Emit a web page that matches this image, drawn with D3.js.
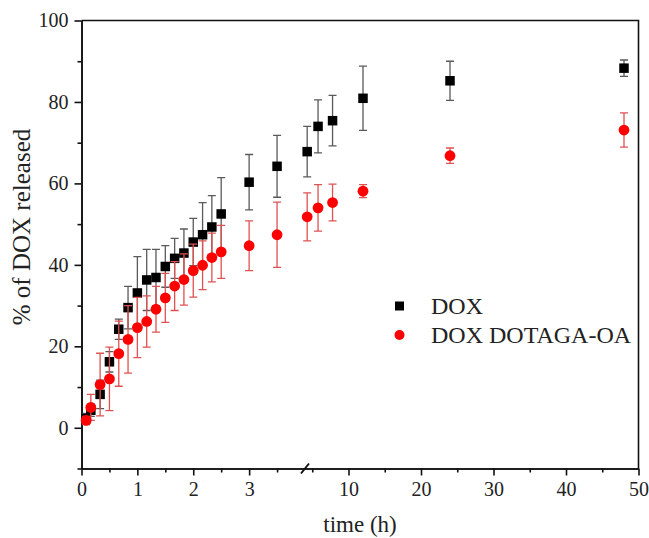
<!DOCTYPE html>
<html>
<head>
<meta charset="utf-8">
<script src="https://cdnjs.cloudflare.com/ajax/libs/d3/7.8.5/d3.min.js"></script>
<style>
  body { margin: 0; background: #fff; }
  svg { display: block; }
  text { font-family: "Liberation Serif", "Times New Roman", serif; fill: #222; }
</style>
</head>
<body>
<svg></svg>
<script>
// sampling times (h)
const times = [0.083, 0.167, 0.333, 0.5, 0.667, 0.833, 1, 1.167, 1.333, 1.5, 1.667, 1.833,
  2, 2.167, 2.333, 2.5, 3, 3.5, 4.3, 5.8, 7.8, 12, 24, 48];

// % released
const doxValues = [2.3, 4.3, 8.2, 16.2, 24.2, 29.5, 33.1, 36.3, 36.9, 39.6, 41.6, 42.9,
  45.6, 47.4, 49.3, 52.5, 60.3, 64.2, 67.8, 74.0, 75.4, 80.9, 85.2, 88.3];
const doxErrors = [1.2, 1.5, 3.5, 2.5, 2.5, 5.2, 8.9, 7.5, 6.9, 5.1, 4.9, 5.9,
  5.8, 7.9, 7.7, 8.9, 6.8, 7.6, 6.2, 6.5, 6.2, 7.9, 4.8, 2.0];

const oaValues = [1.8, 5.0, 10.6, 12.0, 18.2, 21.7, 24.6, 26.1, 29.1, 31.9, 34.8, 36.4,
  38.6, 39.9, 41.8, 43.2, 44.7, 47.4, 51.8, 54.0, 55.3, 58.1, 66.8, 73.1];
const oaErrors = [1.0, 3.2, 7.7, 7.8, 8.0, 8.3, 7.4, 6.3, 5.6, 6.0, 6.0, 6.3,
  6.5, 6.0, 6.0, 6.5, 6.1, 8.0, 5.9, 5.7, 4.5, 1.6, 1.9, 4.2];

const seriesNames = ["DOX", "DOX DOTAGA-OA"];
const xMajorTicks = [0, 1, 2, 3, 10, 20, 30, 40, 50];
const xMinorTicks = [0.5, 1.5, 2.5, 3.5, 5, 15, 25, 35, 45];
const yMajorTicks = [0, 20, 40, 60, 80, 100];
const yMinorTicks = [-10, 10, 30, 50, 70, 90];
const xBreak = 4;

const width = 649;
const height = 538;
const plotLeft = 81.5;
const plotRight = 638.5;
const plotTop = 20.5;
const plotBottom = 468.5;
const breakX = 305;
const svg = d3.select("svg");
let xScale;
let yScale;

const drawCanvas = () => {
  svg.attr("width", width).attr("height", height);
};

// broken x axis: 0-4 h gets its own stretch, 4-50 h the rest
const generateScales = () => {
  xScale = d3.scaleLinear().domain([0, xBreak, 50]).range([plotLeft, breakX, plotRight]);
  yScale = d3.scaleLinear().domain([-10, 100]).range([plotBottom, plotTop]);
};

const generateAxis = () => {
  const xAxis = d3.axisBottom(xScale).tickValues(xMajorTicks).tickSize(7).tickSizeOuter(0).tickPadding(6);
  const xMinor = d3.axisBottom(xScale).tickValues(xMinorTicks).tickSize(4).tickSizeOuter(0).tickFormat("");
  const yAxis = d3.axisLeft(yScale).tickValues(yMajorTicks).tickSize(7).tickSizeOuter(0).tickPadding(6);
  const yMinor = d3.axisLeft(yScale).tickValues(yMinorTicks).tickSize(4).tickSizeOuter(0).tickFormat("");

  const gx = svg.append("g").attr("transform", "translate(0," + plotBottom + ")");
  gx.call(xAxis);
  gx.append("g").call(xMinor);
  const gy = svg.append("g").attr("transform", "translate(" + plotLeft + ",0)");
  gy.call(yAxis);
  gy.append("g").call(yMinor);

  svg.selectAll(".tick line").attr("stroke", "#111").attr("stroke-width", 1.6);
  svg.selectAll(".domain").attr("stroke", "#111").attr("stroke-width", 1.6);
  svg.selectAll(".tick text")
    .style("font-family", '"Liberation Serif", serif')
    .style("font-size", "20px")
    .attr("fill", "#222");

  // frame (top and right)
  svg.append("path")
    .attr("d", `M${plotLeft},${plotTop}H${plotRight}V${plotBottom}`)
    .attr("fill", "none")
    .attr("stroke", "#111")
    .attr("stroke-width", 1.6);

  // break mark
  svg.append("line")
    .attr("x1", breakX - 4).attr("y1", plotBottom + 5)
    .attr("x2", breakX + 4).attr("y2", plotBottom - 5)
    .attr("stroke", "#111").attr("stroke-width", 2);

  svg.append("text")
    .attr("x", (plotLeft + plotRight) / 2)
    .attr("y", 532)
    .attr("text-anchor", "middle")
    .style("font-size", "23px")
    .text("time (h)");

  svg.append("text")
    .attr("transform", "translate(30,227) rotate(-90)")
    .attr("text-anchor", "middle")
    .style("font-size", "25px")
    .text("% of DOX released");
};

const drawSeries = (values, errors, color, barColor, shape) => {
  const g = svg.append("g");
  const cap = 4;
  times.forEach((t, i) => {
    const x = xScale(t);
    const y1 = yScale(values[i] + errors[i]);
    const y2 = yScale(values[i] - errors[i]);
    g.append("path")
      .attr("d", `M${x},${y1}V${y2}M${x - cap},${y1}H${x + cap}M${x - cap},${y2}H${x + cap}`)
      .attr("stroke", barColor)
      .attr("stroke-width", 1.3)
      .attr("fill", "none");
  });
  if (shape === "square") {
    g.selectAll("rect")
      .data(values)
      .enter()
      .append("rect")
      .attr("x", (d, i) => xScale(times[i]) - 4.75)
      .attr("y", (d) => yScale(d) - 4.75)
      .attr("width", 9.5)
      .attr("height", 9.5)
      .attr("fill", color);
  } else {
    g.selectAll("circle")
      .data(values)
      .enter()
      .append("circle")
      .attr("cx", (d, i) => xScale(times[i]))
      .attr("cy", (d) => yScale(d))
      .attr("r", 5.4)
      .attr("fill", color);
  }
};

const drawLegend = () => {
  const lg = svg.append("g");
  lg.append("rect").attr("x", 395).attr("y", 301.5).attr("width", 9).attr("height", 9).attr("fill", "#000");
  lg.append("circle").attr("cx", 399.5).attr("cy", 335).attr("r", 5).attr("fill", "#ff0000");
  lg.append("text").attr("x", 431).attr("y", 314).style("font-size", "24px").text(seriesNames[0]);
  lg.append("text").attr("x", 431).attr("y", 343).style("font-size", "24px").text(seriesNames[1]);
};

drawCanvas();
generateScales();
generateAxis();
drawSeries(doxValues, doxErrors, "#000", "#5a5a5a", "square");
drawSeries(oaValues, oaErrors, "#ff0000", "#e05252", "circle");
drawLegend();
</script>
</body>
</html>
